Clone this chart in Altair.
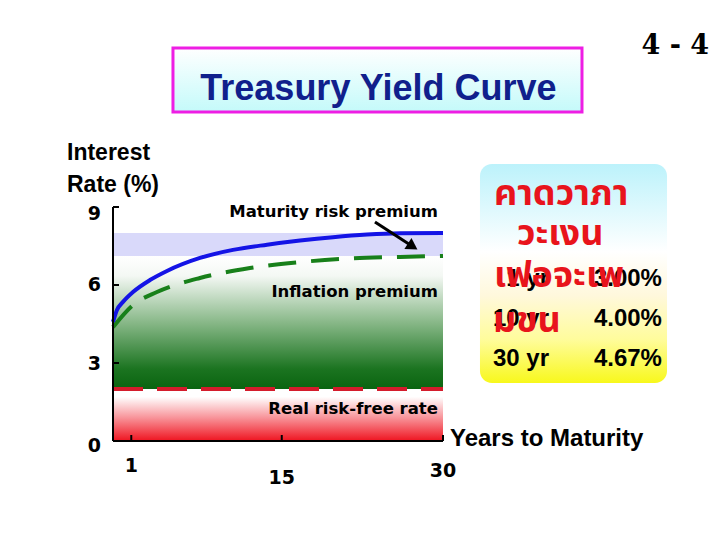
import altair as alt
import pandas as pd

# ---------------- data ----------------
blue_years = [-0.7, -0.33, 0.23, 1.16, 2.74, 4.32, 7.39, 10.46, 13.63, 16.7, 19.77, 22.93, 26.0, 30.0]
blue_rates = [4.58, 5.04, 5.35, 5.73, 6.19, 6.54, 7.04, 7.35, 7.55, 7.71, 7.84, 7.94, 7.99, 8.0]

green_years = [-0.7, 1.16, 3.39, 7.39, 12.04, 16.7, 21.35, 26.0, 30.0]
green_rates = [4.38, 5.23, 5.73, 6.27, 6.65, 6.88, 7.02, 7.08, 7.12]

real_rate = 2.0          # real risk-free rate
inflation_top = 7.12     # top of inflation premium band
maturity_top = 8.0       # top of maturity risk premium band

x_ticks = [1, 15, 30]
y_ticks = [0, 3, 6, 9]

maturities = ["1 yr", "10 yr", "30 yr"]
yields_ = ["3.00%", "4.00%", "4.67%"]

thai_lines = ["คาดวาภา", "วะเงน", "เฟอจะเพ", "มขน"]

# ---------------- scales ----------------
X0, X1 = -0.7, 30.0
Y0, Y1 = 0.0, 9.0
xs = alt.Scale(domain=[X0, X1], nice=False, zero=False)
ys = alt.Scale(domain=[Y0, Y1], nice=False, zero=False)

SANS = "Liberation Sans"
WIDE = "DejaVu Sans"


def grad(stops, vertical_up=True):
    if vertical_up:
        return {"gradient": "linear", "x1": 0, "y1": 1, "x2": 0, "y2": 0,
                "stops": [{"offset": o, "color": c} for o, c in stops]}
    return {"gradient": "linear", "x1": 0, "y1": 0, "x2": 0, "y2": 1,
            "stops": [{"offset": o, "color": c} for o, c in stops]}


def rect(df, fill, **kw):
    return alt.Chart(df).mark_rect(fill=fill, **kw).encode(
        x=alt.X("x0:Q", scale=xs, axis=None), x2="x1:Q",
        y=alt.Y("y0:Q", scale=ys, axis=None), y2="y1:Q")


def seg(df, **kw):
    return alt.Chart(df).mark_rule(**kw).encode(
        x=alt.X("x:Q", scale=xs, axis=None), x2="x2:Q",
        y=alt.Y("y:Q", scale=ys, axis=None), y2="y2:Q")


def text(df, font, size, color="black", align="left", weight="bold", baseline="alphabetic"):
    return alt.Chart(df).mark_text(font=font, fontSize=size, fontWeight=weight, color=color,
                                   align=align, baseline=baseline).encode(
        x=alt.X("x:Q", scale=xs, axis=None),
        y=alt.Y("y:Q", scale=ys, axis=None),
        text="t:N")


# ---------------- decorative boxes ----------------
title_box = rect(pd.DataFrame({"x0": [4.88], "x1": [42.93], "y0": [12.65], "y1": [15.12]}),
                 grad([(0, "#ffffff"), (1, "#c4fafa")], vertical_up=False),
                 stroke="#ee1ee4", strokeWidth=3)

table_box = rect(pd.DataFrame({"x0": [33.44], "x1": [50.84], "y0": [2.23], "y1": [10.65]}),
                 grad([(0, "#bcf2fb"), (0.4, "#ffffff"), (0.6, "#fff8dc"),
                       (0.8, "#fffc9c"), (1, "#f8f81c")], vertical_up=False),
                 cornerRadius=12)

# ---------------- bands ----------------
red_band = rect(pd.DataFrame({"x0": [X0], "x1": [X1], "y0": [0], "y1": [real_rate]}),
                grad([(0, "#ef1420"), (0.45, "#f8949a"), (0.85, "#ffffff"), (1, "#ffffff")]))

green_band = rect(pd.DataFrame({"x0": [X0], "x1": [X1], "y0": [real_rate], "y1": [inflation_top]}),
                  grad([(0, "#0a6410"), (0.15, "#1b7420"), (0.5, "#88b888"),
                        (0.85, "#f4f8f4"), (1, "#ffffff")]))

lav_band = rect(pd.DataFrame({"x0": [X0], "x1": [X1], "y0": [inflation_top], "y1": [maturity_top]}),
                "#d9d9fa")

# ---------------- lines ----------------
red_line = alt.Chart(pd.DataFrame({"x": [X0, X1], "y": [real_rate, real_rate]})).mark_line(
    color="#d41c2c", strokeWidth=4, strokeDash=[30, 14]).encode(
    x=alt.X("x:Q", scale=xs, axis=None), y=alt.Y("y:Q", scale=ys, axis=None))

green_line = alt.Chart(pd.DataFrame({"x": green_years, "y": green_rates})).mark_line(
    color="#18801a", strokeWidth=4, strokeDash=[28, 15], interpolate="monotone").encode(
    x=alt.X("x:Q", scale=xs, axis=None), y=alt.Y("y:Q", scale=ys, axis=None))

blue_line = alt.Chart(pd.DataFrame({"x": blue_years, "y": blue_rates})).mark_line(
    color="#1414e6", strokeWidth=4, interpolate="monotone").encode(
    x=alt.X("x:Q", scale=xs, axis=None), y=alt.Y("y:Q", scale=ys, axis=None))

# ---------------- axis lines, inward ticks and tick labels ----------------
axis_lines = seg(pd.DataFrame({"x": [X0, X0], "x2": [X1, X0], "y": [Y0, Y0], "y2": [Y0, Y1]}),
                 color="black", strokeWidth=2)

xtick_layer = alt.Chart(pd.DataFrame({"v": x_ticks})).mark_rule(color="black", strokeWidth=2).encode(
    x=alt.X("v:Q", scale=xs, axis=None), y=alt.value(234), y2=alt.value(228))
ytick_layer = alt.Chart(pd.DataFrame({"v": y_ticks})).mark_rule(color="black", strokeWidth=2).encode(
    y=alt.Y("v:Q", scale=ys, axis=None), x=alt.value(0), x2=alt.value(6))

xlab = text(pd.DataFrame({"t": [str(v) for v in x_ticks], "x": x_ticks,
                          "y": [-1.19, -1.65, -1.38]}), WIDE, 19, align="center")
ylab = text(pd.DataFrame({"t": [str(v) for v in y_ticks], "x": [-1.82] * len(y_ticks),
                          "y": [v + d for v, d in zip(y_ticks, [-0.42, -0.27, -0.23, -0.5])]}),
            WIDE, 19, align="right")

# ---------------- arrow ----------------
arrow_line = seg(pd.DataFrame({"x": [23.67], "y": [8.42], "x2": [27.18], "y2": [7.48]}),
                 color="black", strokeWidth=3)
arrow_head = alt.Chart(pd.DataFrame({"x": [27.18], "y": [7.48]})).mark_point(
    shape="triangle-right", filled=True, color="black", size=170, angle=33, opacity=1).encode(
    x=alt.X("x:Q", scale=xs, axis=None), y=alt.Y("y:Q", scale=ys, axis=None))

# ---------------- texts ----------------
annots = text(pd.DataFrame({"t": ["Maturity risk premium", "Inflation premium", "Real risk-free rate"],
                            "x": [29.53, 29.53, 29.53], "y": [8.62, 5.54, 1.04]}),
              WIDE, 16.5, align="right")
ytitle = text(pd.DataFrame({"t": ["Interest", "Rate (%)"], "x": [-4.98, -4.98], "y": [10.81, 9.58]}),
              SANS, 23)
xtitle = text(pd.DataFrame({"t": ["Years to Maturity"], "x": [30.65], "y": [-0.19]}), SANS, 24)
title = text(pd.DataFrame({"t": ["Treasury Yield Curve"], "x": [23.99], "y": [13.12]}),
             SANS, 36, color="#10208c", align="center")
slide_no = text(pd.DataFrame({"t": ["4 - 4"], "x": [54.75], "y": [14.88]}),
                "DejaVu Serif", 27, align="right")

tab_years = text(pd.DataFrame({"t": maturities, "x": [39.86] * 3, "y": [5.96, 4.42, 2.88]}),
                 SANS, 24, align="right")
tab_yields = text(pd.DataFrame({"t": yields_, "x": [50.37] * 3, "y": [5.96, 4.42, 2.88]}),
                  SANS, 24, align="right")
thai = text(pd.DataFrame({"t": thai_lines, "x": [34.74, 36.88, 34.74, 34.65],
                          "y": [9.08, 7.54, 5.92, 4.19]}),
            "Noto Sans Thai, Noto Sans Thai Looped, Tahoma, Garuda, Loma, sans-serif", 36,
            color="#e8141c")

chart = alt.layer(
    title_box, table_box, red_band, green_band, lav_band,
    red_line, green_line, blue_line,
    axis_lines, xtick_layer, ytick_layer, arrow_line, arrow_head, xlab, ylab,
    annots, ytitle, xtitle, title, slide_no, tab_years, tab_yields, thai,
).properties(
    width=330, height=234,
    autosize=alt.AutoSizeParams(type="none"),
    padding={"left": 105, "top": 199, "right": 268, "bottom": 80},
).configure(background="white").configure_view(strokeWidth=0, stroke="transparent")

chart.save("out.html", embed_options={"renderer": "svg", "actions": False})
